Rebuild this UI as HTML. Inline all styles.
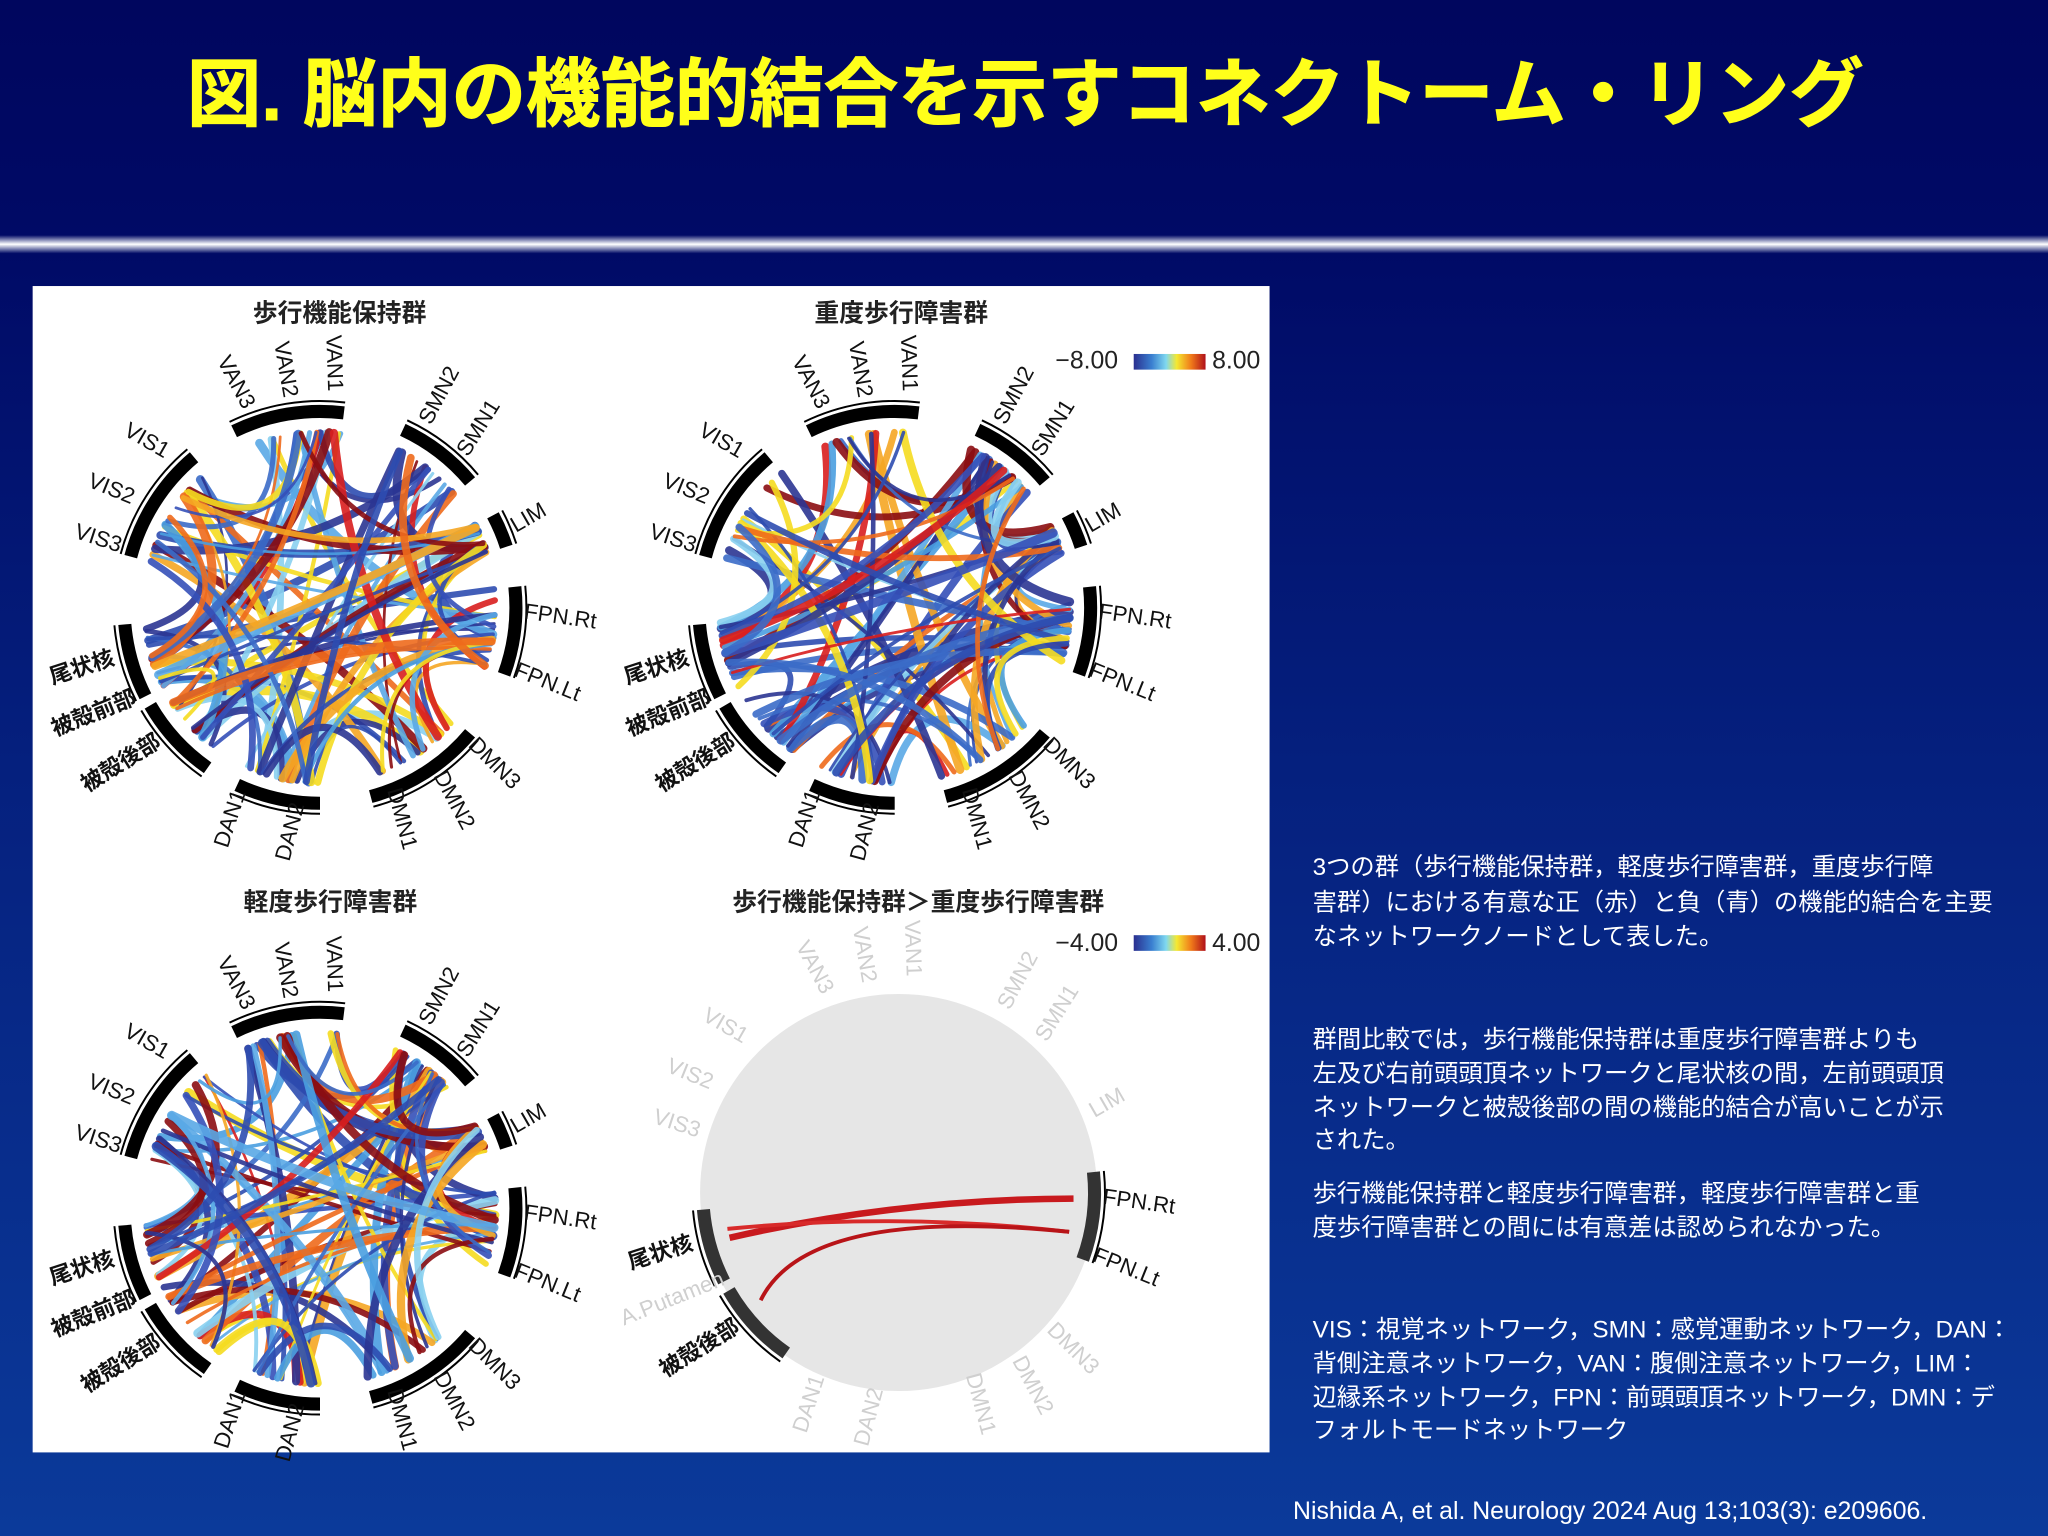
<!DOCTYPE html>
<html><head><meta charset="utf-8">
<style>
html,body{margin:0;padding:0;width:2048px;height:1536px;overflow:hidden;background:#001a80}
svg{display:block}
text{font-family:"Liberation Sans","Noto Sans CJK JP",sans-serif}
</style></head><body>
<svg id="s" width="2048" height="1536" viewBox="0 0 1568 1176" xmlns="http://www.w3.org/2000/svg">
<defs>
<linearGradient id="bg" x1="0" y1="0" x2="0" y2="1">
<stop offset="0" stop-color="#00065e"/><stop offset="0.16" stop-color="#000a66"/>
<stop offset="0.5" stop-color="#05207e"/><stop offset="1" stop-color="#0b3a9a"/></linearGradient>
<linearGradient id="ln" x1="0" y1="0" x2="0" y2="1">
<stop offset="0" stop-color="#000a66"/><stop offset="0.5" stop-color="#ffffff"/><stop offset="1" stop-color="#000a66"/></linearGradient>
<linearGradient id="cb" x1="0" y1="0" x2="1" y2="0">
<stop offset="0" stop-color="#2a2f8f"/><stop offset="0.25" stop-color="#3a7fd0"/><stop offset="0.45" stop-color="#7fd8f0"/>
<stop offset="0.6" stop-color="#f5e830"/><stop offset="0.8" stop-color="#f07a1a"/><stop offset="1" stop-color="#b0101a"/></linearGradient>
</defs>
<rect width="1568" height="1176" fill="url(#bg)"/>
<rect x="0" y="180" width="1568" height="14" fill="url(#ln)"/>
<text x="785" y="92" text-anchor="middle" font-size="57" font-weight="bold" fill="#ffff1a" stroke="#ffff1a" stroke-width="0.8">図. 脳内の機能的結合を示すコネクトーム・リング</text>
<rect x="25" y="219" width="947" height="893" fill="#ffffff"/>
<g font-weight="bold" font-size="19" fill="#222" text-anchor="middle">
<text x="260" y="246">歩行機能保持群</text>
<text x="690" y="246">重度歩行障害群</text>
<text x="253" y="697">軽度歩行障害群</text>
<text x="703" y="697">歩行機能保持群＞重度歩行障害群</text>
</g>
<rect x="868" y="271" width="55" height="12" fill="url(#cb)"/>
<text x="808" y="282" font-size="19" fill="#222">−8.00</text><text x="928" y="282" font-size="19" fill="#222">8.00</text>
<rect x="868" y="716" width="55" height="12" fill="url(#cb)"/>
<text x="808" y="728" font-size="19" fill="#222">−4.00</text><text x="928" y="728" font-size="19" fill="#222">4.00</text>
<circle cx="688" cy="913" r="152" fill="#e6e6e6"/>
<g id="rings"></g>
<g font-size="18.6" fill="#ffffff">
<text x="1005" y="670">3つの群（歩行機能保持群，軽度歩行障害群，重度歩行障</text>
<text x="1005" y="697">害群）における有意な正（赤）と負（青）の機能的結合を主要</text>
<text x="1005" y="723">なネットワークノードとして表した。</text>
<text x="1005" y="802">群間比較では，歩行機能保持群は重度歩行障害群よりも</text>
<text x="1005" y="828">左及び右前頭頭頂ネットワークと尾状核の間，左前頭頭頂</text>
<text x="1005" y="854">ネットワークと被殻後部の間の機能的結合が高いことが示</text>
<text x="1005" y="879">された。</text>
<text x="1005" y="920">歩行機能保持群と軽度歩行障害群，軽度歩行障害群と重</text>
<text x="1005" y="946">度歩行障害群との間には有意差は認められなかった。</text>
<text x="1005" y="1024">VIS：視覚ネットワーク，SMN：感覚運動ネットワーク，DAN：</text>
<text x="1005" y="1050">背側注意ネットワーク，VAN：腹側注意ネットワーク，LIM：</text>
<text x="1005" y="1076">辺縁系ネットワーク，FPN：前頭頭頂ネットワーク，DMN：デ</text>
<text x="1005" y="1101">フォルトモードネットワーク</text>
</g>
<text x="990" y="1163" font-size="19" fill="#ffffff">Nishida A, et al. Neurology 2024 Aug 13;103(3): e209606.</text>
</svg>
<script>
(function(){
var NS="http://www.w3.org/2000/svg",G=document.getElementById("rings");
function el(t,a,p){var e=document.createElementNS(NS,t);for(var k in a)e.setAttribute(k,a[k]);(p||G).appendChild(e);return e;}
var segs=[[-26,7],[25,50],[62,72],[84,110],[130,165],[180,205],[215,240],[243,265],[285,320]];
var labels=[["VAN3",-65,-172,62],["VAN2",-27,-182,80],["VAN1",10,-187,88],["SMN2",92,-162,-62],["SMN1",122,-137,-58],
["LIM",160,-68,-30],["FPN.Rt",184,8,8],["FPN.Lt",174,58,22],["DMN3",133,120,45],["DMN2",102,148,62],["DMN1",62,162,75],
["DAN2",-22,172,-75],["DAN1",-68,162,-72],["被殻後部",-152,120,-32],["被殻前部",-173,82,-22],["尾状核",-182,47,-18],
["VIS3",-170,-52,18],["VIS2",-160,-90,22],["VIS1",-133,-127,30]];
function pt(cx,cy,r,a){a=(a-90)*Math.PI/180;return [cx+r*Math.cos(a),cy+r*Math.sin(a)];}
function arc(cx,cy,r,a0,a1,w,col){var p=pt(cx,cy,r,a0),q=pt(cx,cy,r,a1);
el("path",{d:"M"+p[0]+","+p[1]+" A"+r+","+r+" 0 0 1 "+q[0]+","+q[1],fill:"none",stroke:col,"stroke-width":w});}
var seed=11;function rnd(){seed=(seed*16807)%2147483647;return seed/2147483647;}
var cols=["#2b3592","#2e4db0","#3b6cc8","#4a9ee0","#8ad0ef","#3550b8","#2b3592","#5aa8e6","#f5a623","#ee6a1c","#d81e1e","#8b0d12","#f5dc20","#2e4db0"];
function ring(cx,cy,full,n){
  var r=140;
  if(full){
    for(var i=0;i<n;i++){
      var s1=segs[Math.floor(rnd()*segs.length)],s2=segs[Math.floor(rnd()*segs.length)];
      if(s1==s2)continue;
      var a=s1[0]+rnd()*(s1[1]-s1[0]),b=s2[0]+rnd()*(s2[1]-s2[0]);
      var p=pt(cx,cy,r-6,a),q=pt(cx,cy,r-6,b);
      var mx=(p[0]+q[0])/2,my=(p[1]+q[1])/2,k=0.55;
      var c=[mx+(cx-mx)*k,my+(cy-my)*k];
      el("path",{d:"M"+p[0]+","+p[1]+" Q"+c[0]+","+c[1]+" "+q[0]+","+q[1],fill:"none",stroke:cols[Math.floor(rnd()*cols.length)],"stroke-width":(2+rnd()*5).toFixed(1),"stroke-opacity":"0.9","stroke-linecap":"round"});
    }
  }
  for(var j=0;j<segs.length;j++){
    var act=full||j==3||j==6||j==7;
    arc(cx,cy,r+10,segs[j][0],segs[j][1],10,act?(full?"#000":"#333"):"none");
    if(act)arc(cx,cy,r+18,segs[j][0],segs[j][1],1.5,"#000");
  }
  for(var m=0;m<labels.length;m++){
    var L=labels[m],x=cx+L[1],y=cy+L[2];
    var active=full||["FPN.Rt","FPN.Lt","尾状核","被殻後部"].indexOf(L[0])>=0;
    if(!full&&L[0]=="被殻前部"){L=["A.Putamen",L[1],L[2],L[3]];}
    var t=el("text",{x:x,y:y,"font-size":17,"text-anchor":"middle","dominant-baseline":"middle",
      fill:active?"#111":"#cfcfcf","font-weight":/[\u3000-\u9fff]/.test(L[0])?"bold":"normal",transform:"rotate("+L[3]+" "+x+" "+y+")"});
    t.textContent=L[0];
  }
}
ring(245,465,true,110);
ring(685,465,true,110);
ring(245,925,true,110);
var cx=688,cy=913,r=140;
var fa=pt(cx,cy,r-6,255),fb=pt(cx,cy,r-6,92),fc=pt(cx,cy,r-6,258),fd=pt(cx,cy,r-6,103),fe=pt(cx,cy,r-6,232);
el("path",{d:"M"+fa[0]+","+fa[1]+" Q"+cx+","+(cy+5)+" "+fb[0]+","+fb[1],fill:"none",stroke:"#c81a1e","stroke-width":5});
el("path",{d:"M"+fc[0]+","+fc[1]+" Q"+cx+","+(cy+15)+" "+fd[0]+","+fd[1],fill:"none",stroke:"#d82a2a","stroke-width":3});
el("path",{d:"M"+fe[0]+","+fe[1]+" Q"+(cx-70)+","+(cy+10)+" "+fd[0]+","+fd[1],fill:"none",stroke:"#b81418","stroke-width":3});
ring(cx,cy,false,0);
})();
</script>
</body></html>
